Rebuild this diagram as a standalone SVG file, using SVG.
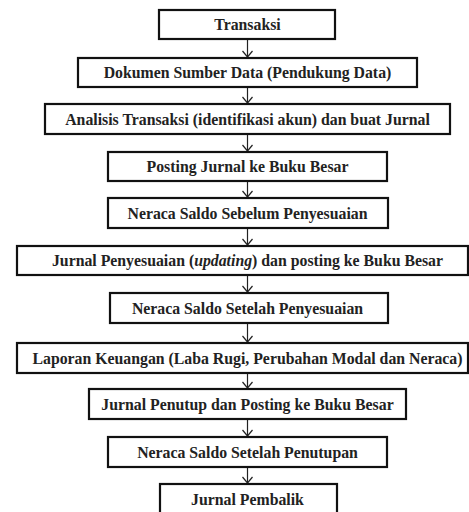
<svg xmlns="http://www.w3.org/2000/svg" width="469" height="512" viewBox="0 0 469 512">
<defs>
<style>
.box{fill:#fff;stroke:#111;stroke-width:2.2}
.t{font-family:'Liberation Serif',serif;font-weight:700;font-size:15.8px;fill:#222;text-anchor:middle}
.c{stroke:#222;stroke-width:1.2;fill:none}
</style>
<marker id="ah" markerWidth="10" markerHeight="12" refX="7" refY="6" markerUnits="userSpaceOnUse" orient="auto" viewBox="0 0 10 12">
<path d="M1,1 L7,6 L1,11" fill="none" stroke="#222" stroke-width="1.2"/>
</marker>
</defs>
<rect width="469" height="512" fill="#fff"/>
<g id="connectors">
<line class="c" x1="247.5" y1="40" x2="247.5" y2="57" marker-end="url(#ah)"/>
<line class="c" x1="247.5" y1="88" x2="247.5" y2="103" marker-end="url(#ah)"/>
<line class="c" x1="247.5" y1="135" x2="247.5" y2="151" marker-end="url(#ah)"/>
<line class="c" x1="247.5" y1="182" x2="247.5" y2="197" marker-end="url(#ah)"/>
<line class="c" x1="247.5" y1="229" x2="247.5" y2="245" marker-end="url(#ah)"/>
<line class="c" x1="247.5" y1="276" x2="247.5" y2="292" marker-end="url(#ah)"/>
<line class="c" x1="247.5" y1="324" x2="247.5" y2="342" marker-end="url(#ah)"/>
<line class="c" x1="247.5" y1="374" x2="247.5" y2="388" marker-end="url(#ah)"/>
<line class="c" x1="247.5" y1="420" x2="247.5" y2="436" marker-end="url(#ah)"/>
<line class="c" x1="247.5" y1="468" x2="247.5" y2="483" marker-end="url(#ah)"/>
</g>
<g id="n1"><rect class="box" x="159" y="10" width="176" height="29"/><text class="t" x="247.5" y="30">Transaksi</text></g>
<g id="n2"><rect class="box" x="78" y="58" width="339" height="29"/><text class="t" x="247.5" y="78">Dokumen Sumber Data (Pendukung Data)</text></g>
<g id="n3"><rect class="box" x="45" y="104" width="405" height="30"/><text class="t" x="247.5" y="124.5">Analisis Transaksi (identifikasi akun) dan buat Jurnal</text></g>
<g id="n4"><rect class="box" x="108" y="152" width="279" height="29"/><text class="t" x="247.5" y="172">Posting Jurnal ke Buku Besar</text></g>
<g id="n5"><rect class="box" x="108" y="198" width="280" height="30"/><text class="t" x="247.5" y="218.5">Neraca Saldo Sebelum Penyesuaian</text></g>
<g id="n6"><rect class="box" x="17" y="246" width="451" height="29"/><text class="t" x="247.5" y="266">Jurnal Penyesuaian (<tspan font-style="italic">updating</tspan>) dan posting ke Buku Besar</text></g>
<g id="n7"><rect class="box" x="110" y="293" width="278" height="30"/><text class="t" x="247.5" y="313.5">Neraca Saldo Setelah Penyesuaian</text></g>
<g id="n8"><rect class="box" x="17" y="343" width="451" height="30"/><text class="t" x="247.5" y="363.5">Laporan Keuangan (Laba Rugi, Perubahan Modal dan Neraca)</text></g>
<g id="n9"><rect class="box" x="89" y="389" width="317" height="30"/><text class="t" x="247.5" y="409.5">Jurnal Penutup dan Posting ke Buku Besar</text></g>
<g id="n10"><rect class="box" x="108" y="437" width="279" height="30"/><text class="t" x="247.5" y="457.5">Neraca Saldo Setelah Penutupan</text></g>
<g id="n11"><rect class="box" x="160" y="484" width="177" height="30"/><text class="t" x="247.5" y="504.5">Jurnal Pembalik</text></g>
</svg>
